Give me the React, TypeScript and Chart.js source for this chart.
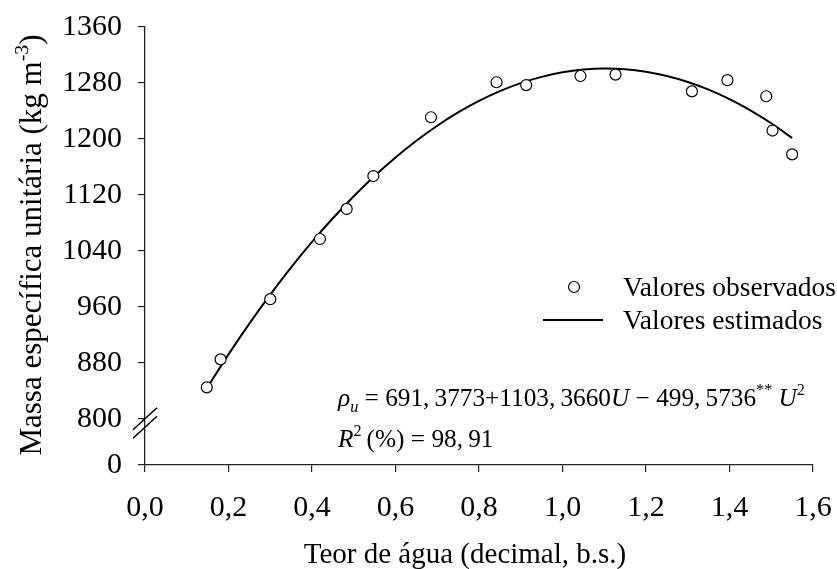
import React, { useEffect, useRef } from 'react';
import { Chart, registerables } from 'chart.js';

Chart.register(...registerables);

const observedX = [0.148, 0.181, 0.3, 0.419, 0.483, 0.547, 0.685, 0.842, 0.913, 1.043, 1.127, 1.31, 1.395, 1.488, 1.503, 1.55];
const observedY = [845, 885, 971, 1057, 1100, 1147, 1231, 1281, 1277, 1290, 1292, 1268, 1284, 1261, 1212, 1178];

// Estimated curve (fitted model values)
const estimatedX = [0.15, 0.2, 0.25, 0.3, 0.35, 0.4, 0.45, 0.5, 0.55, 0.6, 0.65, 0.7, 0.75, 0.8, 0.85, 0.9, 0.95, 1.0, 1.05, 1.1, 1.15, 1.2, 1.25, 1.3, 1.35, 1.4, 1.45, 1.5, 1.55];
const estimatedY = [845.6, 892.1, 936.0, 977.4, 1016.4, 1052.8, 1086.7, 1118.2, 1147.1, 1173.6, 1197.5, 1218.9, 1237.9, 1254.3, 1268.3, 1279.8, 1288.7, 1295.2, 1299.1, 1300.6, 1299.6, 1296.0, 1290.0, 1281.5, 1270.5, 1256.9, 1240.9, 1222.4, 1201.4];

// Axis ticks
const xTickValues = [0, 0.2, 0.4, 0.6, 0.8, 1.0, 1.2, 1.4, 1.6];
const yTickValues = [800, 880, 960, 1040, 1120, 1200, 1280, 1360];
const yBreakValue = 734; // axis bottom, labelled "0" (broken axis)
const yBreakLabel = '0';

const FONT = '"Liberation Serif", "Times New Roman", serif';

type Run = { t: string; italic?: boolean; sup?: boolean; sub?: boolean };

function runFont(r: Run, size: number) {
  const s = r.sup || r.sub ? size * 0.64 : size;
  return `${r.italic ? 'italic ' : ''}${s}px ${FONT}`;
}
function measureRuns(ctx: CanvasRenderingContext2D, runs: Run[], size: number) {
  let w = 0;
  for (const r of runs) {
    ctx.font = runFont(r, size);
    w += ctx.measureText(r.t).width;
  }
  return w;
}
function drawRuns(ctx: CanvasRenderingContext2D, x: number, y: number, runs: Run[], size: number) {
  for (const r of runs) {
    ctx.font = runFont(r, size);
    const dy = r.sup ? -size * 0.42 : r.sub ? size * 0.25 : 0;
    ctx.fillText(r.t, x, y + dy);
    x += ctx.measureText(r.t).width;
  }
}

const yTitleRuns: Run[] = [{ t: 'Massa específica unitária (kg m' }, { t: '-3', sup: true }, { t: ')' }];
const xTitle = 'Teor de água (decimal, b.s.)';
const eqRuns: Run[] = [
  { t: 'ρ', italic: true },
  { t: 'u', italic: true, sub: true },
  { t: ' = 691,\u20093773+1103,\u20093660' },
  { t: 'U', italic: true },
  { t: ' − 499,\u20095736' },
  { t: '**', sup: true },
  { t: ' U', italic: true },
  { t: '2', sup: true },
];
const r2Runs: Run[] = [{ t: 'R', italic: true }, { t: '2', sup: true }, { t: '\u2009(%) = 98,\u200991' }];
const legendObserved = 'Valores observados';
const legendEstimated = 'Valores estimados';

const decorPlugin = {
  id: 'decor',
  afterDraw(chart: any) {
    const ctx: CanvasRenderingContext2D = chart.ctx;
    const xs = chart.scales.x;
    const ys = chart.scales.y;
    ctx.save();
    ctx.fillStyle = '#000';
    ctx.strokeStyle = '#000';
    ctx.textBaseline = 'alphabetic';
    ctx.textAlign = 'left';

    // axis break marks
    const ax = xs.left;
    const y800 = ys.getPixelForValue(800);
    ctx.lineWidth = 1.5;
    for (const off of [0, 8.5]) {
      ctx.beginPath();
      ctx.moveTo(ax - 12, y800 + off + 11);
      ctx.lineTo(ax + 12, y800 + off - 11);
      ctx.stroke();
    }

    // y title (rotated)
    const ytsize = 31;
    const tw = measureRuns(ctx, yTitleRuns, ytsize);
    ctx.save();
    ctx.translate(41, 245);
    ctx.rotate(-Math.PI / 2);
    drawRuns(ctx, -tw / 2, 0, yTitleRuns, ytsize);
    ctx.restore();

    // x title
    ctx.font = `29px ${FONT}`;
    ctx.textAlign = 'center';
    ctx.fillText(xTitle, 465, 563);
    ctx.textAlign = 'left';

    // legend
    const lsize = 27.5;
    ctx.font = `${lsize}px ${FONT}`;
    ctx.beginPath();
    ctx.lineWidth = 1.2;
    ctx.arc(574, 287, 5.5, 0, Math.PI * 2);
    ctx.fillStyle = '#fff';
    ctx.fill();
    ctx.stroke();
    ctx.fillStyle = '#000';
    ctx.fillText(legendObserved, 623, 296);
    ctx.beginPath();
    ctx.lineWidth = 2;
    ctx.moveTo(543, 320);
    ctx.lineTo(603, 320);
    ctx.stroke();
    ctx.fillText(legendEstimated, 623, 329);

    // equation
    drawRuns(ctx, 338, 406, eqRuns, 25.3);
    drawRuns(ctx, 338, 447, r2Runs, 25.3);
    ctx.restore();
  },
};

export default function App() {
  const ref = useRef<HTMLCanvasElement | null>(null);
  useEffect(() => {
    document.body.style.margin = '0';
    const canvas = ref.current!;
    const chart = new Chart(canvas, {
      type: 'scatter',
      data: {
        datasets: [
          {
            label: legendObserved,
            data: observedX.map((x, i) => ({ x, y: observedY[i] })),
            showLine: false,
            pointRadius: 5.5,
            pointBorderWidth: 1.2,
            pointBorderColor: '#000',
            pointBackgroundColor: '#fff',
            pointStyle: 'circle',
          },
          {
            label: legendEstimated,
            data: estimatedX.map((x, i) => ({ x, y: estimatedY[i] })),
            showLine: true,
            pointRadius: 0,
            borderColor: '#000',
            borderWidth: 2,
            tension: 0.3,
          },
        ],
      },
      options: {
        responsive: false,
        animation: false,
        layout: { padding: { top: 27, right: 24, left: 0, bottom: 0 } },
        plugins: { legend: { display: false }, tooltip: { enabled: false } },
        scales: {
          x: {
            type: 'linear',
            min: 0,
            max: 1.6,
            afterBuildTicks: (s: any) => {
              s.ticks = xTickValues.map((v) => ({ value: v }));
            },
            afterFit: (s: any) => {
              s.height = 104;
              s.paddingLeft = 0;
              s.paddingRight = 0;
            },
            ticks: {
              color: '#000',
              font: { family: FONT, size: 30 },
              padding: 18,
              maxRotation: 0,
              autoSkip: false,
              callback: (v: any) => Number(v).toFixed(1).replace('.', ','),
            },
            grid: { drawOnChartArea: false, drawTicks: true, tickLength: 7, color: '#222', lineWidth: 1.2 },
            border: { color: '#222', width: 1.3 },
          },
          y: {
            type: 'linear',
            min: yBreakValue,
            max: 1360,
            afterBuildTicks: (s: any) => {
              s.ticks = [yBreakValue, ...yTickValues].map((v) => ({ value: v }));
            },
            afterFit: (s: any) => {
              s.width = 145;
              s.paddingTop = 0;
              s.paddingBottom = 0;
            },
            ticks: {
              color: '#000',
              font: { family: FONT, size: 30 },
              padding: 16,
              autoSkip: false,
              callback: (v: any) => (v === yBreakValue ? yBreakLabel : String(v)),
            },
            grid: { drawOnChartArea: false, drawTicks: true, tickLength: 7, color: '#222', lineWidth: 1.2 },
            border: { color: '#222', width: 1.3 },
          },
        },
      },
      plugins: [decorPlugin],
    });
    return () => chart.destroy();
  }, []);
  return (
    <div style={{ width: 837, height: 569, background: '#fff' }}>
      <canvas ref={ref} width={837} height={569} />
    </div>
  );
}
